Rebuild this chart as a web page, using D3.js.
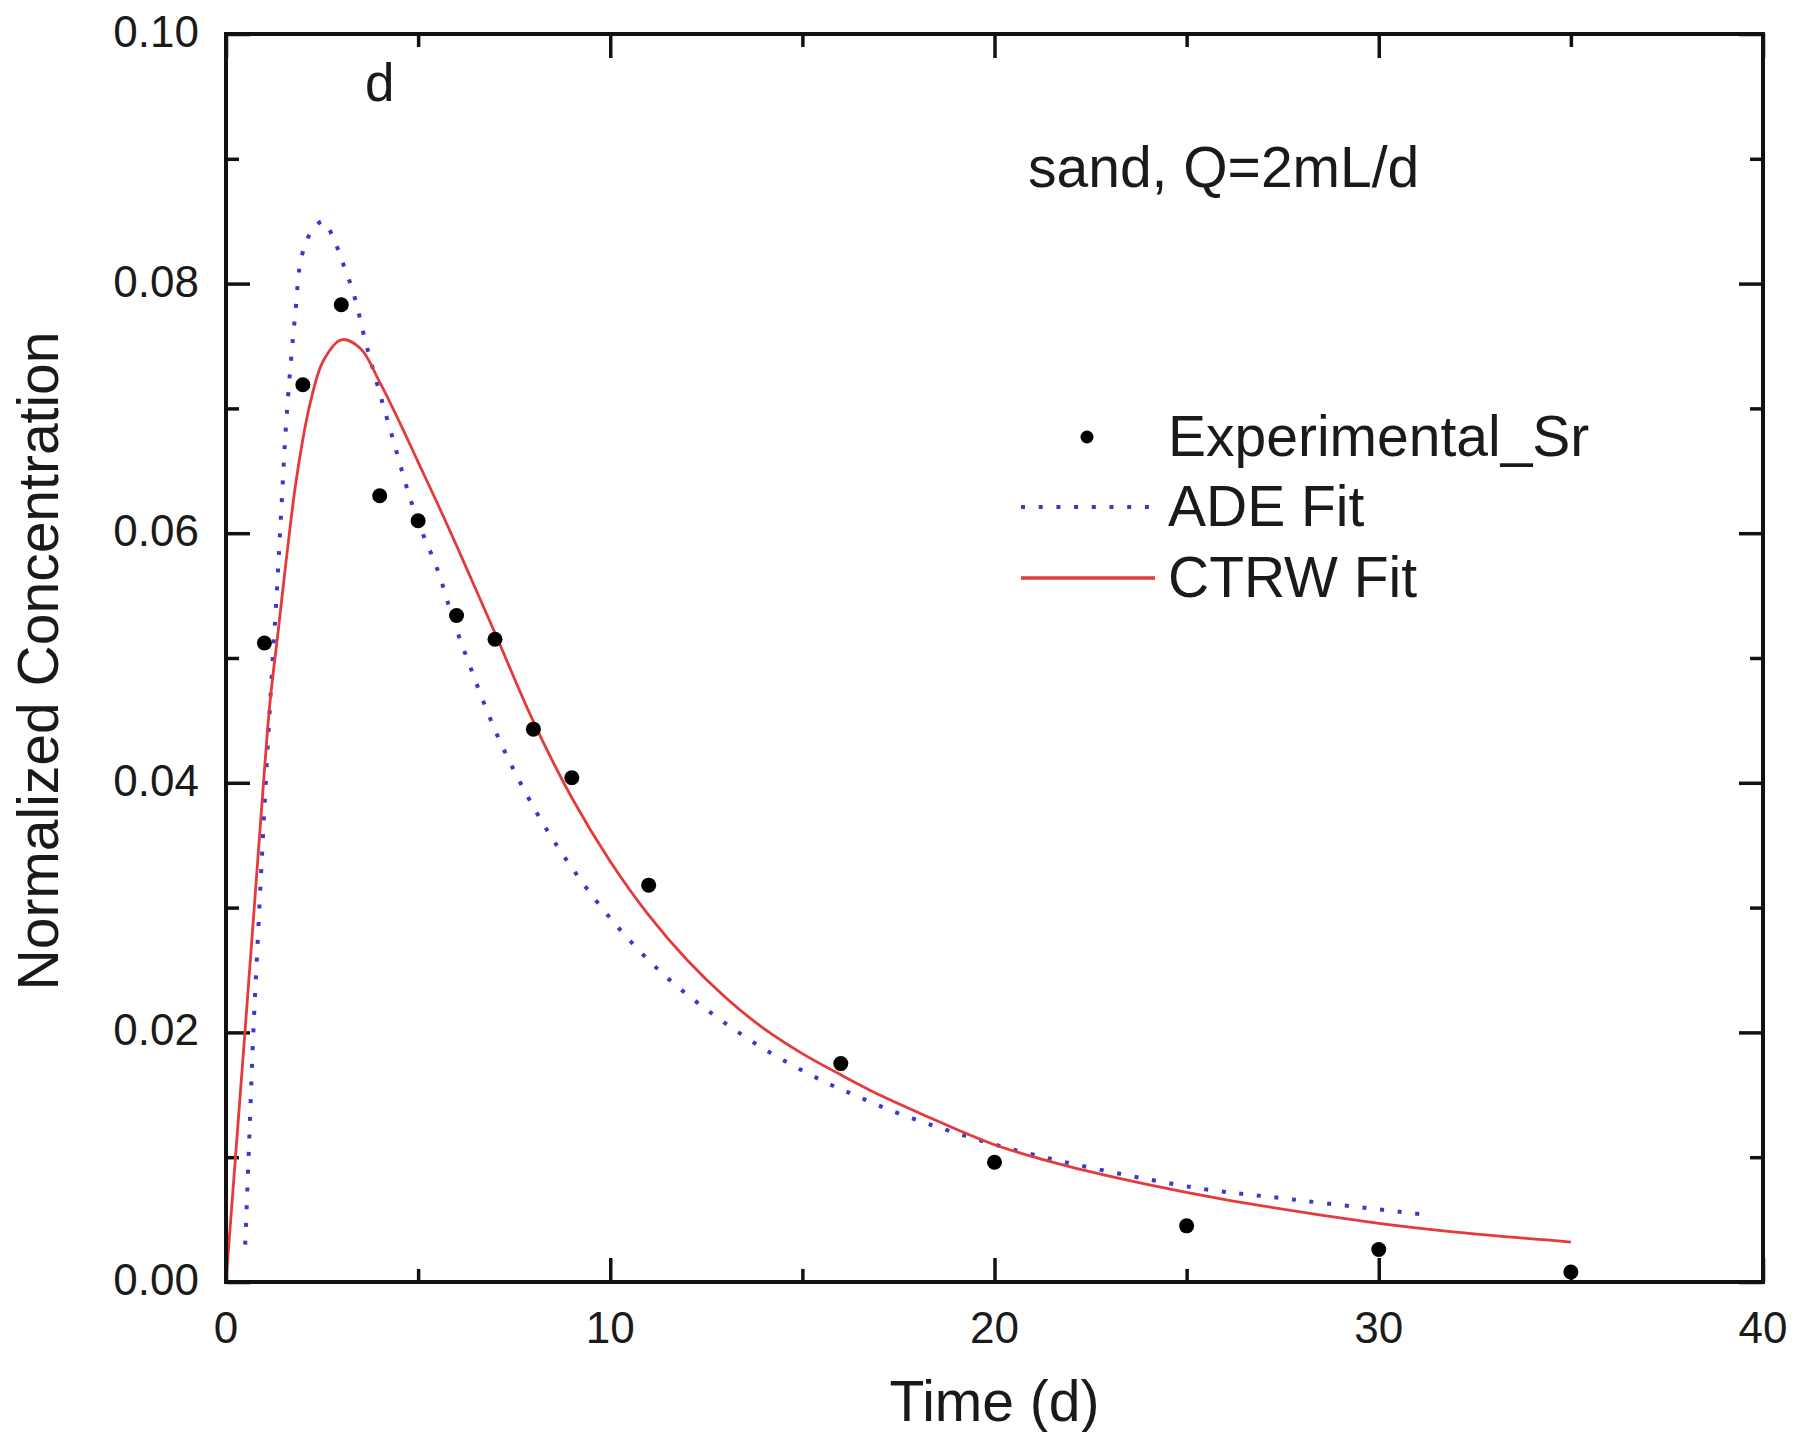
<!DOCTYPE html>
<html>
<head>
<meta charset="utf-8">
<script src="https://cdn.jsdelivr.net/npm/d3@7"></script>
<style>
  body { margin: 0; background: #fff; }
  svg { display: block; }
  text { font-family: "Liberation Sans", Arial, sans-serif; fill: #1a1a1a; }
</style>
</head>
<body>
<svg id="chart"></svg>
<script>
const WIDTH = 1797;
const HEIGHT = 1432;
const PLOT = {left: 226, right: 1763, top: 34, bottom: 1282};

// measured points
const expTime = [1, 2, 3, 4, 5, 6, 7, 8, 9, 11, 16, 20, 25, 30, 35];
const expConc = [0.0512, 0.0719, 0.0783, 0.0630, 0.0610, 0.0534, 0.0515, 0.0443, 0.0404, 0.0318, 0.0175, 0.0096, 0.0045, 0.0026, 0.0008];

// ADE fit
const adeTime = [0.5, 0.6, 0.71, 0.87, 1.0, 1.15, 1.32, 1.45, 1.58, 1.8, 1.97, 2.23, 2.53, 2.8, 3.01, 3.32, 3.66, 4.05, 4.45, 4.75, 5.05, 5.49, 5.92, 6.27, 7.09, 8.05, 8.91, 9.96, 11.26, 12.65, 14.04, 15.47, 16.34, 17.6, 20.5, 25.13, 27.52, 31.2];
const adeConc = [0.0030, 0.0110, 0.0199, 0.0301, 0.0380, 0.0465, 0.0552, 0.0625, 0.0695, 0.0775, 0.0822, 0.0842, 0.0850, 0.0836, 0.0819, 0.0792, 0.0750, 0.0707, 0.0664, 0.0632, 0.0605, 0.0572, 0.0530, 0.0500, 0.0436, 0.0378, 0.0336, 0.0293, 0.0250, 0.0215, 0.0186, 0.0162, 0.0150, 0.0134, 0.0106, 0.0076, 0.0067, 0.0054];

// CTRW fit
const ctrwTime = [0, 0.5, 0.75, 1.0, 1.15, 1.36, 1.54, 1.84, 2.19, 2.53, 3.0, 3.5, 4.0, 4.5, 5.0, 5.5, 6.0, 7.0, 8.0, 9.0, 10.0, 11.0, 12.0, 13.0, 14.0, 15.0, 16.0, 17.0, 18.0, 20.0, 22.0, 24.0, 26.0, 28.0, 30.0, 32.0, 35.0];
const ctrwConc = [0, 0.0203, 0.0306, 0.0410, 0.0466, 0.0522, 0.0571, 0.0645, 0.0704, 0.0738, 0.0755, 0.0748, 0.0721, 0.0690, 0.0657, 0.0624, 0.0590, 0.0520, 0.0449, 0.0388, 0.0337, 0.0294, 0.0258, 0.0228, 0.0203, 0.0183, 0.0166, 0.0150, 0.0136, 0.0110, 0.0092, 0.0078, 0.0066, 0.0056, 0.0047, 0.0040, 0.0032];

const xMajor = [0, 10, 20, 30, 40];
const xMinor = [5, 15, 25, 35];
const yMajor = [0, 0.02, 0.04, 0.06, 0.08, 0.10];
const yMinor = [0.01, 0.03, 0.05, 0.07, 0.09];

const legendLabels = ["Experimental_Sr", "ADE Fit", "CTRW Fit"];

const ADE_COLOR = "#3a3ac8";
const CTRW_COLOR = "#e53a3a";

const svg = d3.select("#chart").attr("width", WIDTH).attr("height", HEIGHT);

const x = d3.scaleLinear().domain([0, 40]).range([PLOT.left, PLOT.right]);
const y = d3.scaleLinear().domain([0, 0.1]).range([PLOT.bottom, PLOT.top]);

// ticks on all four sides, pointing inwards
function ticks(axis, values, size, transform) {
    const g = svg.append("g")
        .attr("transform", transform)
        .call(axis.tickValues(values).tickSize(size).tickFormat(""));
    g.select(".domain").remove();
    g.selectAll("line").attr("stroke", "#111").attr("stroke-width", 3.5);
    return g;
}
ticks(d3.axisBottom(x), xMajor, -24, `translate(0,${PLOT.bottom})`);
ticks(d3.axisBottom(x), xMinor, -13, `translate(0,${PLOT.bottom})`);
ticks(d3.axisTop(x), xMajor, -24, `translate(0,${PLOT.top})`);
ticks(d3.axisTop(x), xMinor, -13, `translate(0,${PLOT.top})`);
ticks(d3.axisLeft(y), yMajor, -24, `translate(${PLOT.left},0)`);
ticks(d3.axisLeft(y), yMinor, -13, `translate(${PLOT.left},0)`);
ticks(d3.axisRight(y), yMajor, -24, `translate(${PLOT.right},0)`);
ticks(d3.axisRight(y), yMinor, -13, `translate(${PLOT.right},0)`);

// tick labels
svg.append("g").selectAll("text")
    .data(xMajor)
    .join("text")
    .attr("x", d => x(d))
    .attr("y", PLOT.bottom + 61)
    .attr("text-anchor", "middle")
    .attr("font-size", 44)
    .text(d => d);

svg.append("g").selectAll("text")
    .data(yMajor)
    .join("text")
    .attr("x", PLOT.left - 27)
    .attr("y", d => y(d) + 13)
    .attr("text-anchor", "end")
    .attr("font-size", 44)
    .text(d => d3.format(".2f")(d));

// axis titles
svg.append("text")
    .attr("x", x(20))
    .attr("y", 1421)
    .attr("text-anchor", "middle")
    .attr("font-size", 57)
    .text("Time (d)");

svg.append("text")
    .attr("transform", `translate(58,${(PLOT.top + PLOT.bottom) / 2 + 3}) rotate(-90)`)
    .attr("text-anchor", "middle")
    .attr("font-size", 57)
    .text("Normalized Concentration");

// curves
const ade = adeTime.map((t, i) => [t, adeConc[i]]);
const ctrw = ctrwTime.map((t, i) => [t, ctrwConc[i]]);
const line = d3.line().x(d => x(d[0])).y(d => y(d[1])).curve(d3.curveCatmullRom.alpha(0.5));

svg.append("path")
    .datum(ade)
    .attr("d", line)
    .attr("fill", "none")
    .attr("stroke", ADE_COLOR)
    .attr("stroke-width", 4)
    .attr("stroke-dasharray", "4,13.7");

svg.append("path")
    .datum(ctrw)
    .attr("d", line)
    .attr("fill", "none")
    .attr("stroke", CTRW_COLOR)
    .attr("stroke-width", 2.8);

svg.append("g").selectAll("circle")
    .data(expTime.map((t, i) => [t, expConc[i]]))
    .join("circle")
    .attr("cx", d => x(d[0]))
    .attr("cy", d => y(d[1]))
    .attr("r", 7.5)
    .attr("fill", "#000");

// frame
svg.append("rect")
    .attr("x", PLOT.left)
    .attr("y", PLOT.top)
    .attr("width", PLOT.right - PLOT.left)
    .attr("height", PLOT.bottom - PLOT.top)
    .attr("fill", "none")
    .attr("stroke", "#111")
    .attr("stroke-width", 4);

// annotations
svg.append("text").attr("x", 365).attr("y", 101).attr("font-size", 53).text("d");
svg.append("text").attr("x", 1028).attr("y", 187).attr("font-size", 57).text("sand, Q=2mL/d");

// legend
const legend = svg.append("g");
const rowY = [437, 507, 578];
legend.append("circle").attr("cx", 1087).attr("cy", rowY[0]).attr("r", 6.5).attr("fill", "#000");
legend.append("line")
    .attr("x1", 1021).attr("x2", 1155).attr("y1", rowY[1]).attr("y2", rowY[1])
    .attr("stroke", ADE_COLOR).attr("stroke-width", 4).attr("stroke-dasharray", "4,13.7");
legend.append("line")
    .attr("x1", 1021).attr("x2", 1155).attr("y1", rowY[2]).attr("y2", rowY[2])
    .attr("stroke", CTRW_COLOR).attr("stroke-width", 3.5);
legend.selectAll("text")
    .data(legendLabels)
    .join("text")
    .attr("x", 1168)
    .attr("y", (d, i) => rowY[i] + 19)
    .attr("font-size", 57)
    .text(d => d);
</script>
</body>
</html>
